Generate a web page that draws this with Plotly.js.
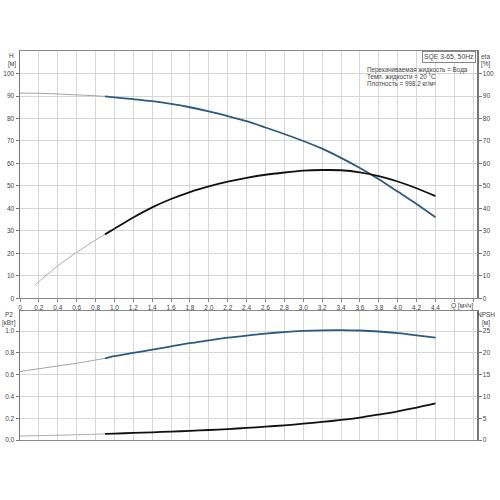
<!DOCTYPE html>
<html><head><meta charset="utf-8">
<script src="https://cdn.plot.ly/plotly-3.0.1.min.js"></script>
<style>body{margin:0;background:#fff}</style></head>
<body><div id="chart" style="width:500px;height:500px"></div>
<script>
// Flow Q [m3/h]
const q = [0,0.2,0.4,0.6,0.8,0.9,1.0,1.2,1.4,1.6,1.8,2.0,2.2,2.4,2.6,2.8,3.0,3.2,3.4,3.6,3.8,4.0,4.2,4.4];
// Head H [m]
const head = [91.3,91.2,90.9,90.5,90.1,89.8,89.4,88.6,87.7,86.5,85.0,83.2,81.1,78.8,76.0,73.1,70.0,66.6,62.5,58.0,53.0,47.5,42.0,36.1];
// Efficiency eta [%]
const qEta = [0.16,0.2,0.4,0.6,0.8,0.9,1.0,1.2,1.4,1.6,1.8,2.0,2.2,2.4,2.6,2.8,3.0,3.2,3.4,3.6,3.8,4.0,4.2,4.4];
const eta = [6,7.5,14.5,20.5,26,28.5,31,36,40.5,44.2,47.3,49.8,51.9,53.6,55,56,56.8,57.1,57,56.1,54.4,52,49,45.5];
// Power P2 [kW]
const p2 = [0.63,0.655,0.68,0.705,0.735,0.75,0.77,0.80,0.83,0.86,0.89,0.915,0.94,0.96,0.978,0.992,1.002,1.008,1.01,1.006,0.997,0.982,0.962,0.94];
// NPSH [m]
const npsh = [0.9,1.0,1.1,1.2,1.33,1.4,1.48,1.62,1.77,1.92,2.1,2.3,2.52,2.78,3.06,3.38,3.74,4.15,4.6,5.15,5.85,6.6,7.45,8.4];
const qSplit = 0.9;

// Tick labels
const xTickVals = [0,0.2,0.4,0.6,0.8,1.0,1.2,1.4,1.6,1.8,2.0,2.2,2.4,2.6,2.8,3.0,3.2,3.4,3.6,3.8,4.0,4.2,4.4,4.6,4.8];
const xTickText = ['0','0,2','0,4','0,6','0,8','1,0','1,2','1,4','1,6','1,8','2,0','2,2','2,4','2,6','2,8','3,0','3,2','3,4','3,6','3,8','4,0','4,2','4,4','',''];
const hTicks = [0,10,20,30,40,50,60,70,80,90,100];
const p2TickVals = [0,0.2,0.4,0.6,0.8,1.0];
const p2TickText = ['0.0','0.2','0.4','0.6','0.8','1.0'];
const npshTicks = [0,5,10,15,20,25];

const infoLines = ['Перекачиваемая жидкость = Вода','Темп. жидкости = 20 °C','Плотность = 998.2 кг/м³'];

function seg(xs, ys, lowPart){
  const X=[],Y=[];
  xs.forEach((x,i)=>{ if(lowPart ? x<=qSplit+1e-9 : x>=qSplit-1e-9){X.push(x);Y.push(ys[i]);} });
  return {x:X,y:Y};
}
const thinH='#9aa3ab', blue='#2b5b80', black='#111', thinE='#aaaaaa';
function tr(xs,ys,low,color,w,xa,ya){
  const s=seg(xs,ys,low);
  return {x:s.x,y:s.y,xaxis:xa,yaxis:ya,mode:'lines',line:{color:color,width:w,shape:'spline',smoothing:0.8},hoverinfo:'skip',showlegend:false};
}
const data=[
  tr(q,head,true,thinH,1,'x','y'),
  tr(q,head,false,blue,1.8,'x','y'),
  tr(qEta,eta,true,thinE,1,'x','y2'),
  tr(qEta,eta,false,black,1.8,'x','y2'),
  tr(q,p2,true,thinH,1,'x2','y3'),
  tr(q,p2,false,blue,1.8,'x2','y3'),
  tr(q,npsh,true,thinE,1,'x2','y4'),
  tr(q,npsh,false,black,1.8,'x2','y4')
];

const F='"Liberation Sans", Arial, sans-serif';
const tf={family:F,size:6.5,color:'#444'};
const grid='#d6d6d6', lc='#888';
const xr=[0,4.84];
const topDom=[0.3638,1], botDom=[0,0.3329];
function px2x(p){return (p-20)/457;}
function py2y(p){return (440-p)/389;}

const ann=[];
function lab(text,x,y,xanchor,size){
  ann.push({text:text,xref:'paper',yref:'paper',x:px2x(x),y:py2y(y),xanchor:xanchor||'center',yanchor:'middle',showarrow:false,font:{family:F,size:size||6.5,color:'#444'}});
}
lab('H',11.5,55.5); lab('[м]',11.5,63.5);
lab('eta',479,56,'left'); lab('[%]',479,64,'left');
lab('P2',9,314.5); lab('[кВт]',9,322.5);
lab('NPSH',486,314.5); lab('[м]',486,322.5);
lab('Q [м³/ч]',462,305.5);
infoLines.forEach((t,i)=>lab(t,365,70+i*7,'left',6.3));
ann.push({text:'SQE 3-65, 50Hz',xref:'paper',yref:'paper',x:px2x(475.5),y:py2y(51.5),xanchor:'right',yanchor:'top',showarrow:false,
  font:{family:F,size:6.8,color:'#444'},bordercolor:'#888',borderwidth:1,borderpad:1,bgcolor:'#fff'});

const xBase={range:xr,tickvals:xTickVals,ticktext:xTickText,showgrid:true,gridcolor:grid,gridwidth:1,zeroline:false,
  showline:true,linecolor:lc,linewidth:1,mirror:true,ticks:'outside',ticklen:3,tickcolor:lc,tickfont:tf,fixedrange:true};
const layout={
  width:500,height:500,margin:{l:20,r:23,t:51,b:60},paper_bgcolor:'#fff',plot_bgcolor:'#fff',
  font:{family:F},showlegend:false,
  xaxis:Object.assign({},xBase,{anchor:'y',domain:[0,1]}),
  xaxis2:Object.assign({},xBase,{anchor:'y3',domain:[0,1],showticklabels:false,ticks:''}),
  yaxis:{domain:topDom,range:[0,110],tickvals:hTicks,showgrid:true,gridcolor:grid,zeroline:false,showline:true,linecolor:'#777',linewidth:1.5,
    ticks:'outside',ticklen:3,tickcolor:'#777',tickfont:tf,anchor:'x'},
  yaxis2:{overlaying:'y',side:'right',range:[0,110],tickvals:hTicks,showgrid:false,zeroline:false,showline:true,linecolor:'#777',linewidth:1.5,
    ticks:'outside',ticklen:3,tickcolor:'#777',tickfont:tf,anchor:'x'},
  yaxis3:{domain:botDom,range:[0,1.19],tickvals:p2TickVals,ticktext:p2TickText,showgrid:true,gridcolor:grid,zeroline:false,showline:true,linecolor:'#777',linewidth:1.5,
    ticks:'outside',ticklen:3,tickcolor:'#777',tickfont:tf,anchor:'x2'},
  yaxis4:{overlaying:'y3',side:'right',range:[0,29.75],tickvals:npshTicks,showgrid:false,zeroline:false,showline:true,linecolor:'#777',linewidth:1.5,
    ticks:'outside',ticklen:3,tickcolor:'#777',tickfont:tf,anchor:'x2'},
  annotations:ann
};
Plotly.newPlot('chart',data,layout,{staticPlot:true,displayModeBar:false});
</script></body></html>
